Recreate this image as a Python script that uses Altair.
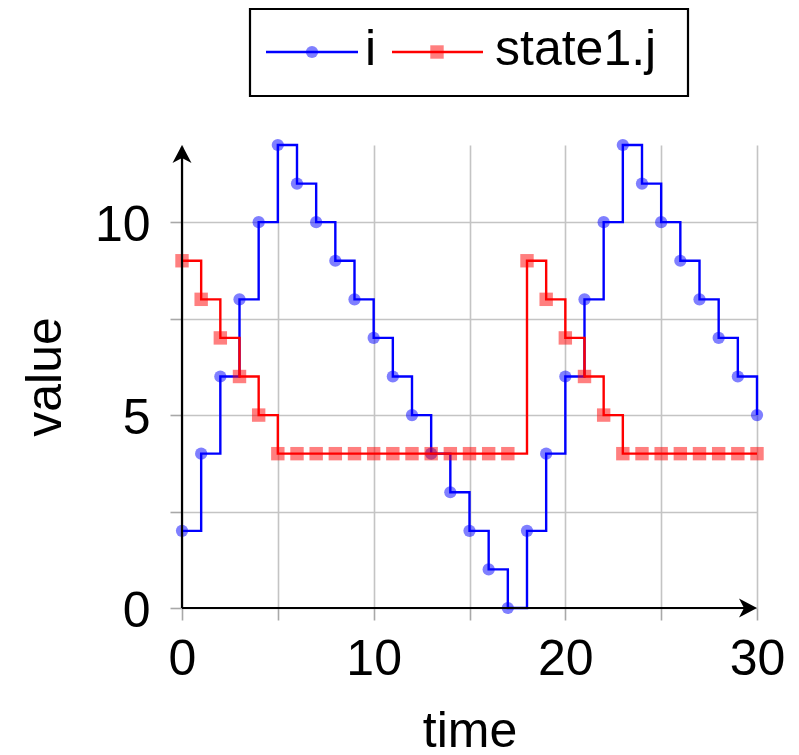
import altair as alt
import pandas as pd

# ---- data ----
time = list(range(31))
i_vals = [2, 4, 6, 8, 10, 12, 11, 10, 9, 8, 7, 6, 5, 4, 3, 2, 1, 0,
          2, 4, 6, 8, 10, 12, 11, 10, 9, 8, 7, 6, 5]
j_vals = [9, 8, 7, 6, 5, 4, 4, 4, 4, 4, 4, 4, 4, 4, 4, 4, 4, 4,
          9, 8, 7, 6, 5, 4, 4, 4, 4, 4, 4, 4, 4]
series_names = ["i", "state1.j"]
x_ticks = [0, 5, 10, 15, 20, 25, 30]
y_ticks = [0, 2.5, 5, 7.5, 10]

df = pd.DataFrame({
    "time": time + time,
    "value": i_vals + j_vals,
    "series": [series_names[0]] * len(time) + [series_names[1]] * len(time),
})

W, H = 575, 463
FONT = "Liberation Sans"
FS = 50
LW = 2.4

x_scale = alt.Scale(domain=[0, 30], nice=False, zero=False)
y_scale = alt.Scale(domain=[0, 12], nice=False, zero=False)

x_axis = alt.Axis(
    values=x_ticks, labelExpr="datum.value % 10 === 0 ? datum.label : ''",
    domain=False, grid=True, gridColor="#c4c4c4", gridWidth=1.6,
    ticks=True, tickColor="#a8a8a8", tickSize=12, tickWidth=1.6,
    labelFont=FONT, labelFontSize=FS, labelColor="black", labelPadding=14,
    labelFlush=False, labelOverlap=False,
    title="time", titleFont=FONT, titleFontSize=FS, titleFontWeight="normal",
    titleColor="black", titleBaseline="alphabetic", titleY=138,
)
y_axis = alt.Axis(
    values=y_ticks, labelExpr="datum.value % 5 === 0 ? datum.label : ''",
    domain=False, grid=True, gridColor="#c4c4c4", gridWidth=1.6,
    ticks=True, tickColor="#a8a8a8", tickSize=12, tickWidth=1.6,
    labelFont=FONT, labelFontSize=FS, labelColor="black", labelPadding=20,
    labelFlush=False, labelOverlap=False, labelOffset=3,
    title="value", titleFont=FONT, titleFontSize=FS, titleFontWeight="normal",
    titleColor="black", titleAngle=270, titleBaseline="alphabetic",
    titleX=-122, titleY=H / 2, titleAlign="center",
)

enc = dict(
    x=alt.X("time:Q", scale=x_scale, axis=x_axis),
    y=alt.Y("value:Q", scale=y_scale, axis=y_axis),
)

base = alt.Chart(df)
blue = base.transform_filter(alt.datum.series == series_names[0])
red = base.transform_filter(alt.datum.series == series_names[1])

blue_line = blue.mark_line(interpolate="step-after", color="#0000ff", strokeWidth=LW).encode(**enc)
blue_pts = blue.mark_point(filled=True, shape="circle", size=150, color="#0000ff",
                           opacity=0.5, strokeWidth=0).encode(**enc)
red_line = red.mark_line(interpolate="step-after", color="#ff0000", strokeWidth=LW).encode(**enc)
red_pts = red.mark_point(filled=True, shape="square", size=180, color="#ff0000",
                         opacity=0.5, strokeWidth=0).encode(**enc)

one = alt.Chart(pd.DataFrame({"k": [0]}))

# axis lines with arrow heads
y_axis_line = one.mark_rule(color="black", strokeWidth=2.2).encode(
    x=alt.value(0), y=alt.value(2), y2=alt.value(H))
x_axis_line = one.mark_rule(color="black", strokeWidth=2.2).encode(
    x=alt.value(0), x2=alt.value(W - 2), y=alt.value(H))
up_arrow = one.mark_point(shape="M0,0 L0.95,1.8 L0,1.3 L-0.95,1.8 Z", filled=True,
                          color="black", opacity=1, size=400, strokeWidth=0).encode(
    x=alt.value(0), y=alt.value(0))
right_arrow = one.mark_point(shape="M0,0 L-1.8,-0.95 L-1.3,0 L-1.8,0.95 Z", filled=True,
                             color="black", opacity=1, size=400, strokeWidth=0).encode(
    x=alt.value(W), y=alt.value(H))

# legend
leg_box = one.mark_rect(fill="white", stroke="black", strokeWidth=2.2).encode(
    x=alt.value(68), x2=alt.value(506), y=alt.value(-136), y2=alt.value(-49))
leg_l1 = one.mark_rule(color="#0000ff", strokeWidth=LW).encode(
    x=alt.value(84), x2=alt.value(176), y=alt.value(-93))
leg_p1 = one.mark_point(filled=True, shape="circle", size=150, color="#0000ff",
                        opacity=0.5, strokeWidth=0).encode(x=alt.value(130), y=alt.value(-93))
leg_t1 = one.mark_text(align="left", baseline="alphabetic", font=FONT, fontSize=FS,
                       color="black").encode(x=alt.value(183), y=alt.value(-80),
                                             text=alt.value(series_names[0]))
leg_l2 = one.mark_rule(color="#ff0000", strokeWidth=LW).encode(
    x=alt.value(210), x2=alt.value(301), y=alt.value(-93))
leg_p2 = one.mark_point(filled=True, shape="square", size=180, color="#ff0000",
                        opacity=0.5, strokeWidth=0).encode(x=alt.value(255), y=alt.value(-93))
leg_t2 = one.mark_text(align="left", baseline="alphabetic", font=FONT, fontSize=FS,
                       color="black").encode(x=alt.value(313), y=alt.value(-80),
                                             text=alt.value(series_names[1]))

chart = alt.layer(
    blue_line, blue_pts, red_line, red_pts,
    y_axis_line, x_axis_line, up_arrow, right_arrow,
    leg_box, leg_l1, leg_p1, leg_t1, leg_l2, leg_p2, leg_t2,
).properties(
    width=W, height=H,
    autosize=alt.AutoSizeParams(type="none"),
    padding={"left": 174, "top": 137, "right": 34, "bottom": 139},
).configure_view(strokeWidth=0)

chart.save("out.html", embed_options={"renderer": "svg", "actions": False})
